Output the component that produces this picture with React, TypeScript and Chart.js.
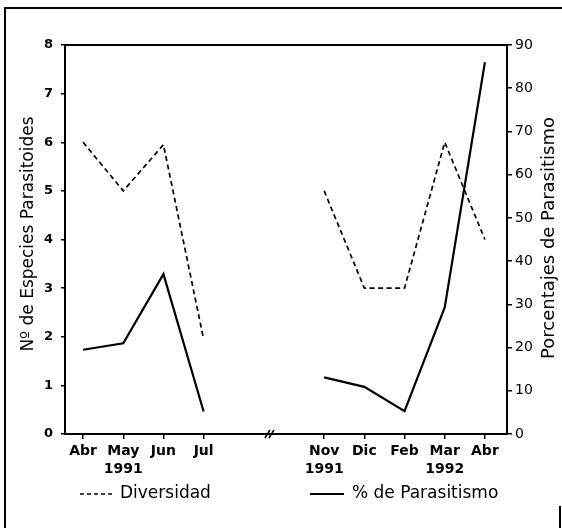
import React, { useEffect, useRef } from "react";
import { Chart, registerables } from "chart.js";

Chart.register(...registerables);

const months = ["Abr", "May", "Jun", "Jul", "", "", "Nov", "Dic", "Feb", "Mar", "Abr"];
const years = ["", "1991", "", "", "", "", "1991", "", "", "1992", ""];
const diversidad = [6, 5, 5.95, 1.95, null, null, 5, 3, 3, 6, 4];
const parasitismo = [19.5, 21, 37, 5.2, null, null, 13.1, 10.9, 5.3, 29.3, 86];
const leftTicks = [0, 1, 2, 3, 4, 5, 6, 7, 8];
const rightTicks = [0, 10, 20, 30, 40, 50, 60, 70, 80, 90];
const BREAK_AT = 4.65;

const leftTitle = "Nº de Especies Parasitoides";
const rightTitle = "Porcentajes de Parasitismo";
const legendDiv = "Diversidad";
const legendPar = "% de Parasitismo";

const FONT = "'DejaVu Sans', sans-serif";

const decorPlugin = {
  id: "decor",
  afterDraw(chart: any) {
    const { ctx, chartArea } = chart;
    const xs = chart.scales.x;
    ctx.save();
    ctx.strokeStyle = "#000";
    ctx.fillStyle = "#000";
    // top border of plot area
    ctx.lineWidth = 2;
    ctx.beginPath();
    ctx.moveTo(chartArea.left, chartArea.top);
    ctx.lineTo(chartArea.right, chartArea.top);
    ctx.stroke();
    // axis break mark
    const bx = xs.getPixelForValue(BREAK_AT);
    const by = chartArea.bottom;
    ctx.lineWidth = 1.5;
    ctx.beginPath();
    ctx.moveTo(bx - 5, by + 4);
    ctx.lineTo(bx, by - 4);
    ctx.moveTo(bx - 1, by + 4);
    ctx.lineTo(bx + 4, by - 4);
    ctx.stroke();
    // titles
    ctx.font = `17px ${FONT}`;
    ctx.textAlign = "center";
    ctx.textBaseline = "middle";
    ctx.save();
    ctx.translate(29, 234);
    ctx.rotate(-Math.PI / 2);
    ctx.fillText(leftTitle, 0, 0);
    ctx.restore();
    ctx.font = `18px ${FONT}`;
    ctx.save();
    ctx.translate(549, 238);
    ctx.rotate(-Math.PI / 2);
    ctx.fillText(rightTitle, 0, 0);
    ctx.restore();
    // legend
    const ly = 494;
    ctx.lineWidth = 1.6;
    ctx.setLineDash([4, 3]);
    ctx.beginPath();
    ctx.moveTo(80, ly);
    ctx.lineTo(114, ly);
    ctx.stroke();
    ctx.setLineDash([]);
    ctx.lineWidth = 2;
    ctx.beginPath();
    ctx.moveTo(310, ly);
    ctx.lineTo(344, ly);
    ctx.stroke();
    ctx.font = `17px ${FONT}`;
    ctx.textAlign = "left";
    ctx.fillText(legendDiv, 120, ly);
    ctx.fillText(legendPar, 352, ly);
    ctx.restore();
  },
};

export default function App() {
  const ref = useRef<HTMLCanvasElement | null>(null);
  useEffect(() => {
    if (!ref.current) return;
    const tickIdx = months.map((m, i) => (m ? i : -1)).filter((i) => i >= 0);
    const chart = new Chart(ref.current, {
      type: "line",
      data: {
        datasets: [
          {
            label: legendDiv,
            data: diversidad.map((v, i) => ({ x: i, y: v })) as any,
            borderColor: "#000",
            borderWidth: 1.7,
            borderDash: [5, 3.5],
            pointRadius: 0,
            spanGaps: false,
            yAxisID: "y",
            tension: 0,
          },
          {
            label: legendPar,
            data: parasitismo.map((v, i) => ({ x: i, y: v })) as any,
            borderColor: "#000",
            borderWidth: 2.2,
            pointRadius: 0,
            spanGaps: false,
            yAxisID: "y2",
            tension: 0,
          },
        ],
      },
      options: {
        responsive: false,
        animation: false,
        layout: { padding: { top: 45, left: 0, right: 0, bottom: 0 } },
        plugins: { legend: { display: false }, tooltip: { enabled: false } },
        scales: {
          x: {
            type: "linear",
            min: -0.45,
            max: 10.55,
            afterBuildTicks: (s: any) => {
              s.ticks = tickIdx.map((v) => ({ value: v }));
            },
            afterFit: (s: any) => {
              s.height = 94;
            },
            ticks: {
              autoSkip: false,
              maxRotation: 0,
              padding: 4,
              color: "#000",
              font: { family: FONT, size: 14, weight: "bold", lineHeight: 1.25 },
              callback: (v: any) => (years[v] ? [months[v], years[v]] : months[v]),
            },
            grid: { display: true, drawOnChartArea: false, drawTicks: true, tickLength: 5, color: "#000", lineWidth: 1.5 },
            border: { display: true, color: "#000", width: 2 },
          },
          y: {
            position: "left",
            min: 0,
            max: 8,
            afterBuildTicks: (s: any) => {
              s.ticks = leftTicks.map((v) => ({ value: v }));
            },
            afterFit: (s: any) => {
              s.width = 65;
            },
            ticks: { color: "#000", padding: 8, font: { family: FONT, size: 13, weight: "bold" } },
            grid: { display: true, drawOnChartArea: false, drawTicks: true, tickLength: 4, color: "#000", lineWidth: 1.5 },
            border: { display: true, color: "#000", width: 2 },
          },
          y2: {
            position: "right",
            min: 0,
            max: 90,
            afterBuildTicks: (s: any) => {
              s.ticks = rightTicks.map((v) => ({ value: v }));
            },
            afterFit: (s: any) => {
              s.width = 55;
            },
            ticks: { color: "#000", padding: 3, font: { family: FONT, size: 14 } },
            grid: { display: true, drawOnChartArea: false, drawTicks: true, tickLength: 5, color: "#000", lineWidth: 1.5 },
            border: { display: true, color: "#000", width: 2 },
          },
        },
      },
      plugins: [decorPlugin],
    });
    return () => chart.destroy();
  }, []);
  return (
    <div style={{ position: "fixed", left: 0, top: 0, width: 562, height: 528, background: "#fff", overflow: "hidden" }}>
      <div style={{ position: "absolute", left: 4, top: 7, width: 600, height: 600, borderLeft: "2px solid #000", borderTop: "2px solid #000" }} />
      <div style={{ position: "absolute", left: 559, top: 506, width: 2, height: 30, background: "#000" }} />
      <canvas ref={ref} width={562} height={528} style={{ position: "absolute", left: 0, top: 0, display: "block" }} />
    </div>
  );
}
